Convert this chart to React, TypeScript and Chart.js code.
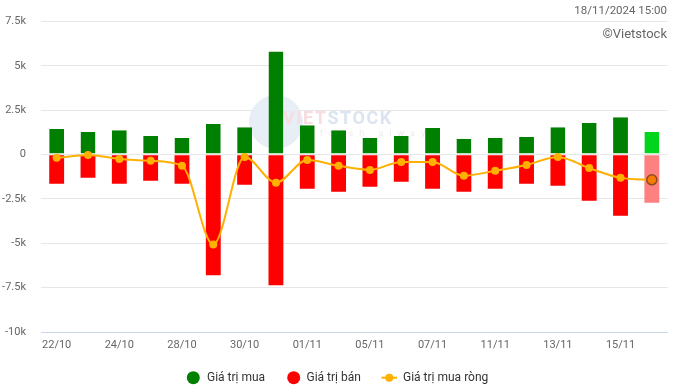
import React, { useEffect, useRef } from "react";
import { Chart, registerables } from "chart.js";

Chart.register(...registerables);

const categories = [
  "22/10", "23/10", "24/10", "25/10", "28/10", "29/10", "30/10", "31/10", "01/11", "04/11",
  "05/11", "06/11", "07/11", "08/11", "11/11", "12/11", "13/11", "14/11", "15/11", "18/11",
];
const buyValues = [
  1440, 1270, 1380, 1050, 940, 1720, 1550, 5810, 1660, 1380,
  940, 1050, 1500, 880, 940, 990, 1550, 1780, 2110, 1270,
];
const sellValues = [
  -1640, -1310, -1640, -1470, -1640, -6800, -1700, -7360, -1920, -2090,
  -1810, -1530, -1920, -2090, -1920, -1640, -1750, -2600, -3440, -2710,
];
const netValues = [
  -180, -20, -240, -350, -630, -5060, -130, -1580, -300, -630,
  -860, -410, -410, -1190, -910, -580, -130, -760, -1310, -1420,
];
const seriesNames = ["Giá trị mua", "Giá trị bán", "Giá trị mua ròng"];
const dateText = "18/11/2024 15:00";
const creditText = "©Vietstock";
const yMin = -10000;
const yMax = 7500;
const yStep = 2500;

const GREEN = "#008000";
const GREEN_LAST = "#00d41c";
const RED = "#ff0000";
const RED_LAST = "#ff8080";
const ORANGE = "#ffb000";
const FONT = "Roboto, 'Noto Sans', sans-serif";

const n = categories.length;
const buyColors = categories.map((_, i) => (i === n - 1 ? GREEN_LAST : GREEN));
const sellColors = categories.map((_, i) => (i === n - 1 ? RED_LAST : RED));
const pointFill = categories.map((_, i) => (i === n - 1 ? "#f57c00" : ORANGE));
const pointBorder = categories.map((_, i) => (i === n - 1 ? "#8a4a1c" : ORANGE));
const pointBorderW = categories.map((_, i) => (i === n - 1 ? 1.5 : 0));
const pointRad = categories.map((_, i) => (i === n - 1 ? 5 : 4));

const decorPlugin = {
  id: "decor",
  beforeDatasetsDraw(chart: any) {
    const ctx = chart.ctx;
    ctx.save();
    // faint watermark logo
    ctx.beginPath();
    ctx.arc(276, 122, 27, 0, Math.PI * 2);
    ctx.fillStyle = "#e8eef6";
    ctx.fill();
    ctx.font = `bold 18px ${FONT}`;
    ctx.textBaseline = "alphabetic";
    ctx.textAlign = "left";
    (ctx as any).letterSpacing = "1.5px";
    ctx.fillStyle = "#f8dcdf";
    ctx.fillText("VIET", 283, 124);
    const w = ctx.measureText("VIET").width;
    ctx.fillStyle = "#dbe4ef";
    ctx.fillText("STOCK", 283 + w, 124);
    (ctx as any).letterSpacing = "6px";
    ctx.font = `9px ${FONT}`;
    ctx.fillStyle = "#ececec";
    ctx.fillText("refresh always", 300, 136);
    (ctx as any).letterSpacing = "0px";
    ctx.restore();
  },
  afterDraw(chart: any) {
    const ctx = chart.ctx;
    ctx.save();
    ctx.fillStyle = "#666666";
    ctx.textAlign = "right";
    ctx.textBaseline = "middle";
    ctx.font = `11.5px ${FONT}`;
    ctx.fillText(dateText, 667, 11);
    ctx.font = `13px ${FONT}`;
    ctx.fillText(creditText, 667, 35);

    // legend
    const ly = 377.7;
    ctx.font = `12px ${FONT}`;
    ctx.textAlign = "left";
    ctx.fillStyle = GREEN;
    ctx.beginPath();
    ctx.arc(193.3, ly, 6.5, 0, Math.PI * 2);
    ctx.fill();
    ctx.fillStyle = "#333333";
    ctx.fillText(seriesNames[0], 207, ly);
    ctx.fillStyle = RED;
    ctx.beginPath();
    ctx.arc(293.7, ly, 6.5, 0, Math.PI * 2);
    ctx.fill();
    ctx.fillStyle = "#333333";
    ctx.fillText(seriesNames[1], 306.5, ly);
    ctx.strokeStyle = ORANGE;
    ctx.lineWidth = 2;
    ctx.beginPath();
    ctx.moveTo(381.5, ly);
    ctx.lineTo(397, ly);
    ctx.stroke();
    ctx.fillStyle = ORANGE;
    ctx.beginPath();
    ctx.arc(389.3, ly, 4, 0, Math.PI * 2);
    ctx.fill();
    ctx.fillStyle = "#333333";
    ctx.fillText(seriesNames[2], 403, ly);
    ctx.restore();
  },
};

export default function App() {
  const canvasRef = useRef<HTMLCanvasElement | null>(null);

  useEffect(() => {
    document.body.style.margin = "0";
    Chart.defaults.font.family = FONT;
    const canvas = canvasRef.current;
    if (!canvas) return;
    const chart = new Chart(canvas, {
      type: "bar",
      data: {
        labels: categories,
        datasets: [
          {
            type: "line",
            label: seriesNames[2],
            data: netValues,
            borderColor: ORANGE,
            borderWidth: 2,
            pointBackgroundColor: pointFill,
            pointBorderColor: pointBorder,
            pointBorderWidth: pointBorderW,
            pointRadius: pointRad,
            cubicInterpolationMode: "monotone",
            order: 0,
          } as any,
          {
            type: "bar",
            label: seriesNames[0],
            data: buyValues,
            backgroundColor: buyColors,
            borderColor: "#ffffff",
            borderWidth: { top: 0, left: 0, right: 0, bottom: 1 },
            borderSkipped: false,
            categoryPercentage: 1,
            barPercentage: 0.475,
            order: 1,
          } as any,
          {
            type: "bar",
            label: seriesNames[1],
            data: sellValues,
            backgroundColor: sellColors,
            borderWidth: 0,
            categoryPercentage: 1,
            barPercentage: 0.475,
            order: 1,
          } as any,
        ],
      },
      options: {
        responsive: false,
        animation: false,
        events: [],
        layout: { padding: { top: 13, right: 1, bottom: 0, left: 0 } },
        plugins: {
          legend: { display: false },
          tooltip: { enabled: false },
        },
        scales: {
          x: {
            stacked: true,
            grid: { display: false, drawTicks: false },
            border: { display: true, color: "#ccd6eb", width: 1 },
            ticks: {
              autoSkip: false,
              maxRotation: 0,
              padding: 7,
              color: "#666666",
              font: { size: 11, family: FONT },
              callback: (_v: any, i: number) => (i % 2 === 0 ? categories[i] : ""),
            },
            afterFit: (scale: any) => {
              scale.height = 56;
            },
          },
          y: {
            min: yMin,
            max: yMax,
            grid: { color: "#e6e6e6", drawTicks: false },
            border: { display: false },
            ticks: {
              stepSize: yStep,
              padding: 15,
              color: "#666666",
              font: { size: 11, family: FONT },
              callback: (v: any) => (v === 0 ? "0" : `${v / 1000}k`),
            },
            afterFit: (scale: any) => {
              scale.width = 41;
            },
          },
        },
      },
      plugins: [decorPlugin],
    });
    return () => chart.destroy();
  }, []);

  return (
    <div style={{ width: 674, height: 388, background: "#ffffff" }}>
      <canvas ref={canvasRef} width={674} height={388} style={{ display: "block" }} />
    </div>
  );
}
